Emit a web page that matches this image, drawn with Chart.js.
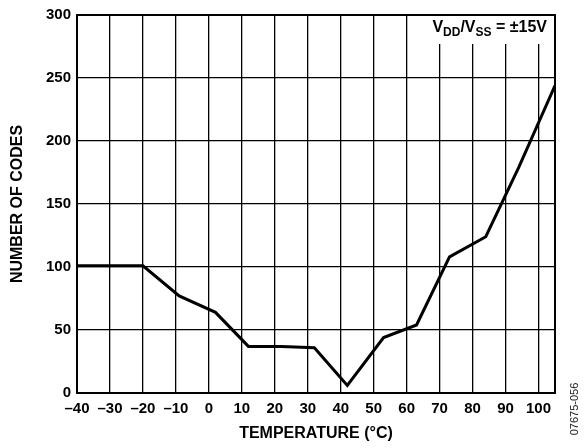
<!DOCTYPE html>
<html>
<head>
<meta charset="utf-8">
<script src="https://cdn.jsdelivr.net/npm/chart.js@4"></script>
<style>
  html, body { margin: 0; padding: 0; background: #fff; }
  #wrap { width: 586px; height: 448px; position: relative; }
</style>
</head>
<body>
<div id="wrap"><canvas id="c" width="586" height="448"></canvas></div>
<script>
// Data
const temperatures = [-40, -20, -9, 2, 12, 22, 32, 42, 53, 63, 73, 84, 94, 105];
const numberOfCodes = [101, 101, 77, 64, 37, 37, 36, 6, 44, 54, 108, 124, 179, 244];
const yTicks = [0, 50, 100, 150, 200, 250, 300];
const xTicks = [-40, -30, -20, -10, 0, 10, 20, 30, 40, 50, 60, 70, 80, 90, 100];
const xTitle = 'TEMPERATURE (°C)';
const yTitle = 'NUMBER OF CODES';
const figureCode = '07675-056';

const FONT = '"Liberation Sans", Arial, Helvetica, sans-serif';

const frameAndNotes = {
  id: 'frameAndNotes',
  afterDatasetsDraw(chart) {
    const ctx = chart.ctx;
    const a = chart.chartArea;
    ctx.save();
    // white box behind the supply annotation
    ctx.fillStyle = '#fff';
    ctx.fillRect(423, a.top, a.right - 423, 29);
    // annotation text V_DD/V_SS = ±15V
    const big = 'bold 16px ' + FONT;
    const small = 'bold 12px ' + FONT;
    const parts = [
      ['V', big, 0], ['DD', small, 4], ['/V', big, 0], ['SS', small, 4], [' = \u00B115V', big, 0]
    ];
    let total = 0;
    parts.forEach(p => { ctx.font = p[1]; total += ctx.measureText(p[0]).width; });
    let x = a.right - 8 - total;
    const base = a.top + 17;
    ctx.fillStyle = '#000';
    ctx.textBaseline = 'alphabetic';
    ctx.textAlign = 'left';
    parts.forEach(p => {
      ctx.font = p[1];
      ctx.fillText(p[0], x, base + p[2]);
      x += ctx.measureText(p[0]).width;
    });
    // frame
    ctx.strokeStyle = '#000';
    ctx.lineWidth = 2;
    ctx.strokeRect(a.left, a.top, a.right - a.left, a.bottom - a.top);
    // figure code, rotated
    ctx.translate(575, 409);
    ctx.rotate(-Math.PI / 2);
    ctx.font = '11px ' + FONT;
    ctx.fillStyle = '#222';
    ctx.textAlign = 'center';
    ctx.textBaseline = 'middle';
    ctx.fillText(figureCode, 0, 0);
    ctx.restore();
  }
};

new Chart(document.getElementById('c'), {
  type: 'line',
  data: {
    datasets: [{
      data: temperatures.map((t, i) => ({ x: t, y: numberOfCodes[i] })),
      borderColor: '#000',
      borderWidth: 3,
      pointRadius: 0,
      tension: 0,
      fill: false,
      borderJoinStyle: 'miter'
    }]
  },
  options: {
    responsive: false,
    animation: false,
    layout: { padding: { top: 12, right: 31, bottom: 0, left: 0 } },
    plugins: { legend: { display: false }, tooltip: { enabled: false } },
    scales: {
      x: {
        type: 'linear',
        min: -40,
        max: 105,
        afterFit: s => { s.height = 55; },
        afterBuildTicks: s => { s.ticks = xTicks.map(v => ({ value: v })); },
        ticks: {
          includeBounds: false,
          autoSkip: false,
          maxRotation: 0,
          padding: 7,
          color: '#000',
          font: { family: FONT, size: 15, weight: 'bold' },
          callback: v => (v < 0 ? '\u2013' + Math.abs(v) : String(v))
        },
        grid: { color: '#000', lineWidth: 1.3, drawTicks: false },
        border: { display: false },
        title: {
          display: true, text: xTitle, color: '#000',
          font: { family: FONT, size: 16, weight: 'bold' },
          padding: { top: 0, bottom: 5 }
        }
      },
      y: {
        type: 'linear',
        min: 0,
        max: 300,
        afterFit: s => { s.width = 77; },
        afterBuildTicks: s => { s.ticks = yTicks.map(v => ({ value: v })); },
        ticks: {
          padding: 6,
          color: '#000',
          font: { family: FONT, size: 15, weight: 'bold' }
        },
        grid: { color: '#000', lineWidth: 1.3, drawTicks: false },
        border: { display: false },
        title: {
          display: true, text: yTitle, color: '#000',
          font: { family: FONT, size: 16, weight: 'bold' },
          padding: { top: 8, bottom: 0 }
        }
      }
    }
  },
  plugins: [frameAndNotes]
});
</script>
</body>
</html>
